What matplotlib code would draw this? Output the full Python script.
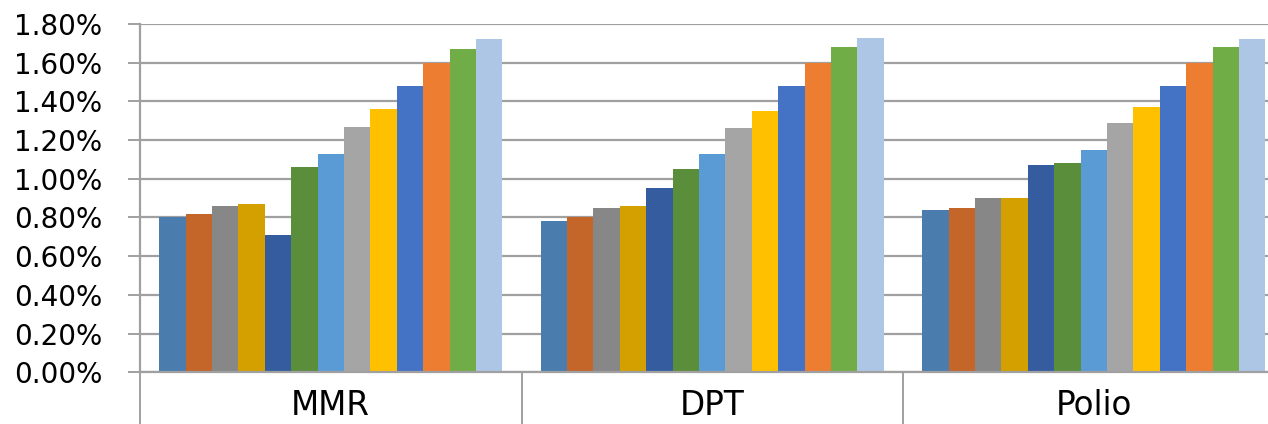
import matplotlib
matplotlib.use("Agg")
import matplotlib.pyplot as plt
import numpy as np
from matplotlib.ticker import FuncFormatter, FixedLocator

categories = ["MMR", "DPT", "Polio"]
mmr = [0.80, 0.82, 0.86, 0.87, 0.71, 1.06, 1.13, 1.27, 1.36, 1.48, 1.60, 1.67, 1.72]
dpt = [0.78, 0.80, 0.85, 0.86, 0.95, 1.05, 1.13, 1.26, 1.35, 1.48, 1.60, 1.68, 1.73]
polio = [0.84, 0.85, 0.90, 0.90, 1.07, 1.08, 1.15, 1.29, 1.37, 1.48, 1.60, 1.68, 1.72]
yticks = [0.0, 0.2, 0.4, 0.6, 0.8, 1.0, 1.2, 1.4, 1.6, 1.8]

colors = ["#4A7DAE", "#C4652A", "#878787", "#D4A000", "#345C9E", "#5A8E3A",
          "#5B9BD5", "#A5A5A5", "#FFC000", "#4472C4", "#ED7D31", "#70AD47", "#ADC6E5"]

values = np.array([mmr, dpt, polio])  # shape (3 categories, 13 series)
n_series = values.shape[1]

fig = plt.figure(figsize=(12.68, 4.24), dpi=100)
W, H = 1268, 424
left, right, top, bottom = 140, 1284.5, 24, 372.3
ax = fig.add_axes([left / W, (H - bottom) / H, (right - left) / W, (bottom - top) / H])

bw = 0.0692
start = 0.5 - n_series * bw / 2
for s in range(n_series):
    x = np.arange(len(categories)) + start + s * bw + bw / 2
    ax.bar(x, values[:, s], width=bw, color=colors[s], edgecolor="none", zorder=3)

ax.set_xlim(0, len(categories))
ax.set_ylim(0, 1.8)

grid_c = "#A0A0A0"
ax.set_yticks(yticks)
ax.yaxis.set_major_formatter(FuncFormatter(lambda v, p: f"{v:.2f}%"))
ax.grid(axis="y", color=grid_c, linewidth=1.6, zorder=0)
ax.tick_params(axis="y", direction="out", length=9, width=1.4, color=grid_c,
               pad=18, labelsize=20, labelcolor="#000000")

ax.set_xticks(np.arange(len(categories)) + 0.5)
ax.set_xticklabels(categories)
ax.tick_params(axis="x", which="major", length=0, pad=12, labelsize=23.5)
ax.xaxis.set_minor_locator(FixedLocator(np.arange(len(categories) + 1)))
ax.tick_params(axis="x", which="minor", direction="out", length=45, width=1.4, color=grid_c)

for side in ["top", "right"]:
    ax.spines[side].set_visible(False)
for side in ["left", "bottom"]:
    ax.spines[side].set_color(grid_c)
    ax.spines[side].set_linewidth(1.6)
    ax.spines[side].set_zorder(4)

fig.savefig("out.png", dpi=100)
